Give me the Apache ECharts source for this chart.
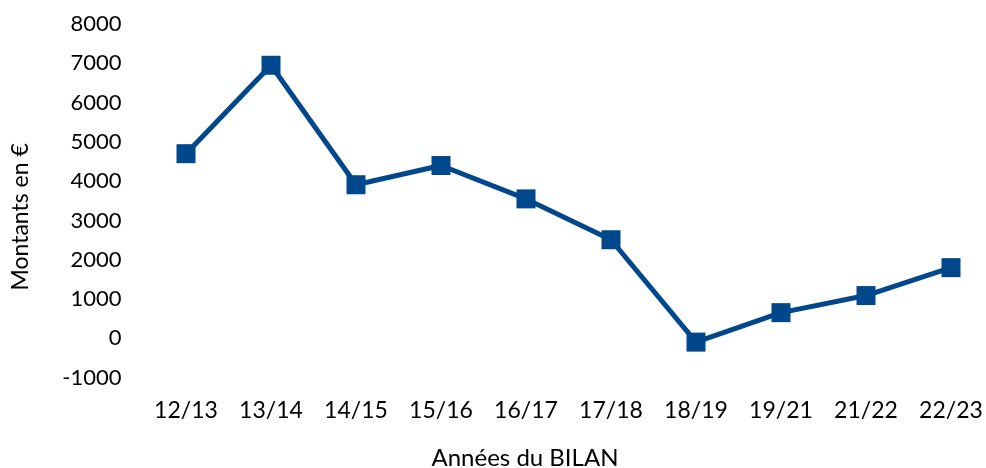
<!DOCTYPE html>
<html>
<head>
<meta charset="utf-8">
<script src="https://cdn.jsdelivr.net/npm/echarts@6/dist/echarts.min.js"></script>
<style>
html,body{margin:0;padding:0;background:#fff;}
#chart{width:986px;height:468px;}
</style>
</head>
<body>
<div id="chart"></div>
<script>
const categories = ['12/13','13/14','14/15','15/16','16/17','17/18','18/19','19/21','21/22','22/23'];
const montants = [4700, 6950, 3910, 4400, 3550, 2510, -95, 655, 1090, 1800];
const yTicks = { min: -1000, max: 8000, interval: 1000 };
const xTitle = 'Années du BILAN';
const yTitle = 'Montants en €';

const FONT = 'Lato';
const chart = echarts.init(document.getElementById('chart'), null, {renderer:'canvas'});
chart.setOption({
  animation: false,
  backgroundColor: '#ffffff',
  grid: { left: 143.5, width: 850, top: 24, height: 353.7, containLabel: false, outerBoundsMode: 'none' },
  xAxis: {
    type: 'category',
    data: categories,
    boundaryGap: true,
    axisLine: { show: false },
    axisTick: { show: false },
    splitLine: { show: false },
    axisLabel: { color: '#000', fontFamily: FONT, fontSize: 23, margin: 21 },
    name: xTitle,
    nameLocation: 'middle',
    nameGap: 69,
    nameTextStyle: { color: '#000', fontFamily: FONT, fontSize: 24, padding: [0, 87, 0, 0] }
  },
  yAxis: {
    type: 'value',
    min: yTicks.min, max: yTicks.max, interval: yTicks.interval,
    axisLine: { show: false },
    axisTick: { show: false },
    splitLine: { show: false },
    axisLabel: { color: '#000', fontFamily: FONT, fontSize: 22, margin: 22, formatter: v => String(v) },
    name: yTitle,
    nameLocation: 'middle',
    nameGap: 111,
    nameTextStyle: { color: '#000', fontFamily: FONT, fontSize: 23, padding: [0, 32, 0, 0] }
  },
  series: [{
    type: 'line',
    data: montants,
    symbol: 'rect',
    symbolSize: 19,
    lineStyle: { color: '#00478C', width: 5 },
    itemStyle: { color: '#00478C' },
    z: 3
  }]
});
</script>
</body>
</html>
